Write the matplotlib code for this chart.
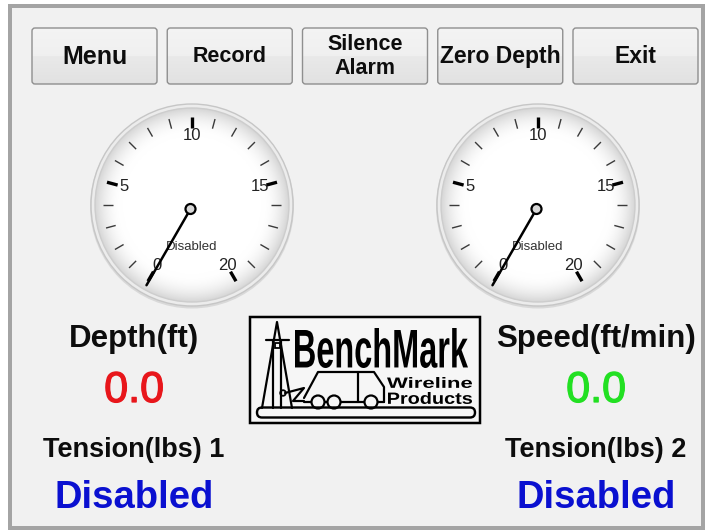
import numpy as np
import matplotlib
matplotlib.use('Agg')
import matplotlib.pyplot as plt
import matplotlib.patheffects as pe
from matplotlib.patches import Circle, FancyBboxPatch, Rectangle, PathPatch
from matplotlib.textpath import TextPath
from matplotlib.font_manager import FontProperties
from matplotlib.transforms import Affine2D

plt.rcParams['font.family'] = ['Liberation Sans', 'DejaVu Sans']

# --- data ---
buttons = ['Menu', 'Record', 'Silence\nAlarm', 'Zero Depth', 'Exit']
button_sizes = [18, 15.5, 15.5, 16.5, 16.5]
gauge_min, gauge_max = 0, 20
gauge_major = [0, 5, 10, 15, 20]
gauge_minor = [1, 2, 3, 4, 6, 7, 8, 9, 11, 12, 13, 14, 16, 17, 18, 19]
gauge_values = [0.0, 0.0]
gauge_status = ['Disabled', 'Disabled']
readout_titles = ['Depth(ft)', 'Speed(ft/min)']
readout_values = [0.0, 0.0]
readout_colors = ['#e8161b', '#22e022']
tension_titles = ['Tension(lbs) 1', 'Tension(lbs) 2']
tension_values = ['Disabled', 'Disabled']

BG = '#f1f1f1'

fig = plt.figure(figsize=(7.06, 5.31), dpi=100)
fig.patch.set_facecolor('white')
ax = fig.add_axes([0, 0, 1, 1])
ax.axis('off')


def px(w):
    return w * 0.72


# panel frame
ax.add_patch(Rectangle((10, 6), 693, 522, fc=BG, ec='#a4a4a4', lw=px(4), zorder=0))

# buttons with a glossy gradient
t = np.linspace(0, 1, 64)
g = np.where(t < 0.5, 0.955 - 0.03 * t, 0.915 - 0.06 * (t - 0.5))
grad = np.dstack([g, g, g]).reshape(64, 1, 3)
for i, lab in enumerate(buttons):
    x0 = 32 + i * 135.25
    y0, w, h = 28, 125, 56
    box = FancyBboxPatch((x0, y0), w, h, boxstyle='round,pad=0,rounding_size=3',
                         fc='none', ec='#8f8f8f', lw=1, zorder=3)
    ax.add_patch(box)
    im = ax.imshow(grad, extent=(x0, x0 + w, y0 + h, y0), aspect='auto',
                   interpolation='bilinear', zorder=2)
    im.set_clip_path(box)
    ax.text(x0 + w / 2, y0 + h / 2 + 0.5, lab, ha='center', va='center',
            fontsize=button_sizes[i], fontweight='bold', color='#0d0d0d',
            linespacing=1.2, zorder=4)


def polar(cx, cy, r, v):
    a = np.radians(-150 + 300 * (v - gauge_min) / (gauge_max - gauge_min))
    return cx + r * np.sin(a), cy - r * np.cos(a)


# radial shading for gauge face
n = 240
yy, xx = np.mgrid[-1:1:n * 1j, -1:1:n * 1j]
rr = np.sqrt(xx ** 2 + yy ** 2)
shade = 1.0 - 0.16 * np.clip((rr - 0.72) / 0.28, 0, 1) ** 2
face = np.dstack([shade, shade, shade])

for k, cx in enumerate([192, 538]):
    cy = 205
    ax.add_patch(Circle((cx, cy + 1.5), 102, fc='#d9d9d9', ec='none', zorder=1))
    ax.add_patch(Circle((cx, cy), 101, fc='#ececec', ec='#c6c6c6', lw=1, zorder=1))
    rim = Circle((cx, cy), 97, fc='none', ec='#cdcdcd', lw=1, zorder=3)
    ax.add_patch(rim)
    fim = ax.imshow(face, extent=(cx - 97, cx + 97, cy + 97, cy - 97), aspect='auto',
                    interpolation='bilinear', zorder=2)
    fim.set_clip_path(rim)

    for v in gauge_minor:
        xa, ya = polar(cx, cy, 79, v)
        xb, yb = polar(cx, cy, 89, v)
        ax.plot([xa, xb], [ya, yb], color='#3a3a3a', lw=1.0, solid_capstyle='butt', zorder=4)
    for v in gauge_major:
        xa, ya = polar(cx, cy, 77, v)
        xb, yb = polar(cx, cy, 88, v)
        ax.plot([xa, xb], [ya, yb], color='black', lw=2.4, solid_capstyle='butt', zorder=4)
        xl, yl = polar(cx, cy, 70, v)
        ax.text(xl, yl, str(v), ha='center', va='center', fontsize=12,
                color='#222222', zorder=5)

    ax.text(cx, cy + 42, gauge_status[k], ha='center', va='center', fontsize=9.5,
            color='#333333', zorder=5)

    pvx, pvy = cx - 1.5, cy + 4
    a = np.radians(-150 + 300 * (gauge_values[k] - gauge_min) / (gauge_max - gauge_min))
    ax.plot([pvx, pvx + 88 * np.sin(a)], [pvy, pvy - 88 * np.cos(a)],
            color='black', lw=1.8, solid_capstyle='round', zorder=6)
    ax.add_patch(Circle((pvx, pvy), 5, fc='#d8d8d8', ec='black', lw=1.6, zorder=7))

# readouts
for k, cx in enumerate([134, 596]):
    ax.text(cx, 339, readout_titles[k], ha='center', va='center', fontsize=22.5,
            fontweight='bold', color='#0d0d0d')
    ax.text(cx, 391, f'{readout_values[k]:.1f}', ha='center', va='center', fontsize=31,
            color=readout_colors[k],
            path_effects=[pe.withStroke(linewidth=0.9, foreground=readout_colors[k])])
    ax.text(cx, 450, tension_titles[k], ha='center', va='center', fontsize=19.5,
            fontweight='bold', color='#0d0d0d')
    ax.text(cx, 498, tension_values[k], ha='center', va='center', fontsize=27.5,
            fontweight='bold', color='#0a10d0')


# logo
def fit_text(s, x0, y0, x1, y1):
    tp = TextPath((0, 0), s, size=10, prop=FontProperties(family='Liberation Sans', weight='bold'))
    bb = tp.get_extents()
    tr = (Affine2D().translate(-bb.x0, -bb.y1)
          .scale((x1 - x0) / bb.width, -(y1 - y0) / bb.height)
          .translate(x0, y0))
    ax.add_patch(PathPatch(tr.transform_path(tp), fc='black', ec='none', zorder=5))


ax.add_patch(Rectangle((250, 317), 230, 106, fc='#f6f6f6', ec='black', lw=px(2.5), zorder=3))
fit_text('BenchMark', 295, 328, 468, 368)
fit_text('Wireline', 387, 377, 472, 388)
fit_text('Products', 388, 392, 472, 404)

lk = dict(color='black', lw=px(2.2), zorder=5, solid_capstyle='round')
# derrick
ax.plot([262, 277, 292], [408, 322, 408], **lk)
ax.plot([273, 273], [340, 408], **lk)
ax.plot([281, 281], [340, 408], **lk)
ax.plot([266, 289], [340, 340], **lk)
ax.add_patch(Rectangle((274.5, 343), 5, 5, fc='none', ec='black', lw=px(1.8), zorder=5))
ax.add_patch(Circle((283, 393), 2.8, fc='none', ec='black', lw=px(1.8), zorder=5))
ax.plot([285, 304, 293, 304], [393, 388, 401, 401], **lk)
# truck
ax.plot([304, 318, 374, 384, 384], [398, 372, 372, 387, 402], **lk)
ax.plot([358, 358], [372, 402], **lk)
ax.plot([304, 384], [402, 402], **lk)
for wx in [318, 334, 371]:
    ax.add_patch(Circle((wx, 402), 6.5, fc='#f6f6f6', ec='black', lw=px(2.2), zorder=6))
# base rail
ax.add_patch(FancyBboxPatch((257, 407.5), 218, 10, boxstyle='round,pad=0,rounding_size=5',
                            fc='none', ec='black', lw=px(2.4), zorder=7))

ax.set_xlim(0, 706)
ax.set_ylim(531, 0)
fig.savefig('out.png', dpi=100, facecolor='white')
